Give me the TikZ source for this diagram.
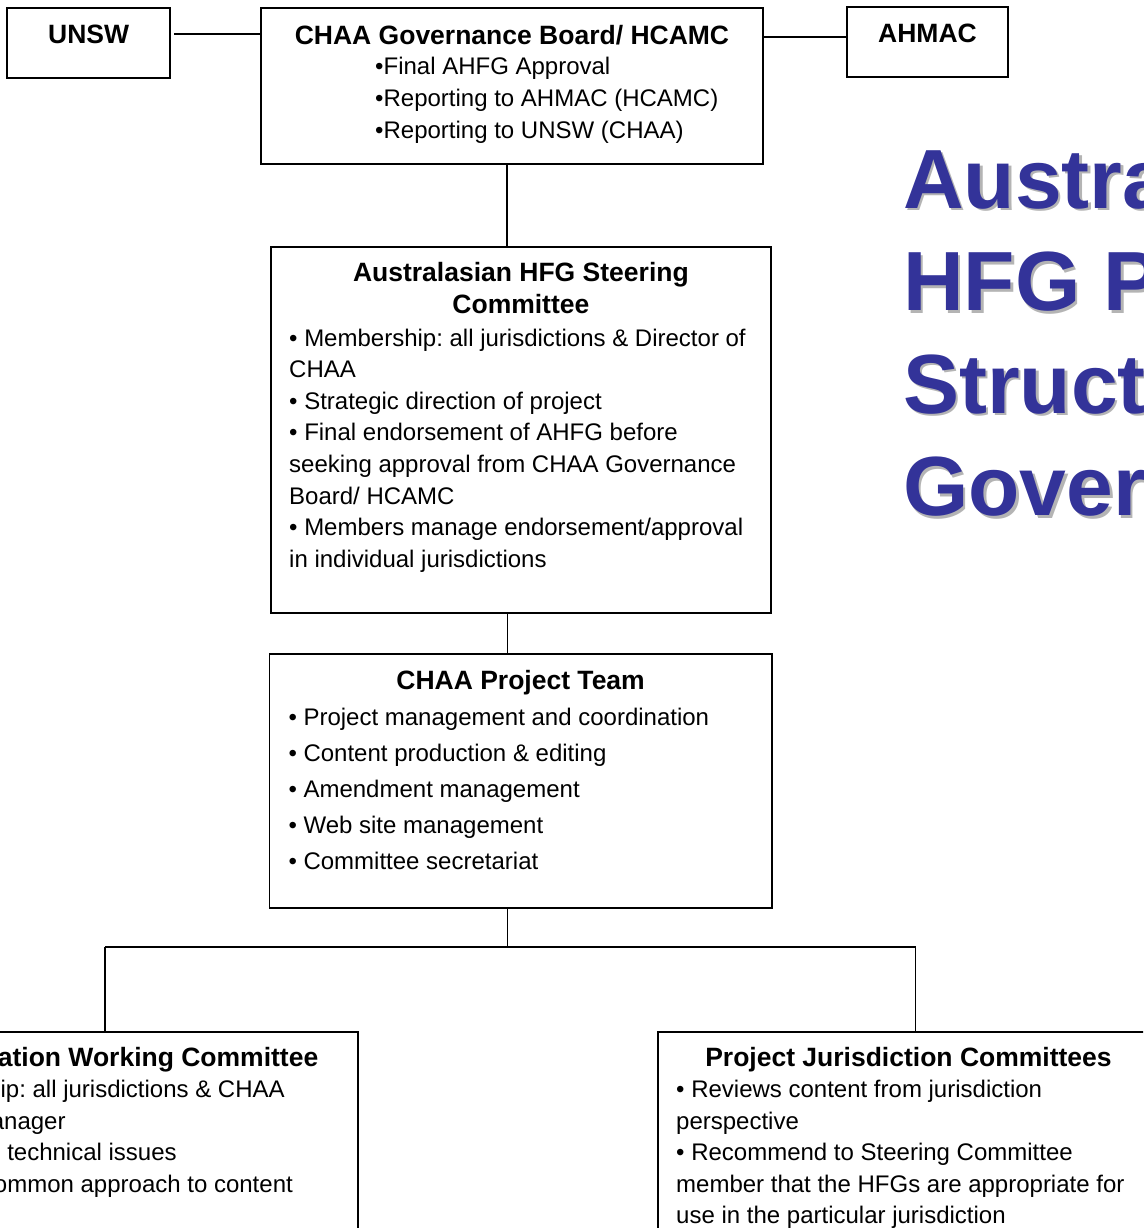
\documentclass[tikz,border=0pt]{standalone}
\usepackage{fontspec}
\setmainfont{Liberation Sans}
\frenchspacing
\definecolor{ttlblue}{HTML}{333399}
\definecolor{shadowgray}{HTML}{B4B4B4}
\begin{document}
\begin{tikzpicture}[x=1pt,y=-1pt,
  box/.style={draw, line width=1.8pt, inner sep=0pt, outer sep=0pt, anchor=north west},
  conn/.style={line width=1.7pt},
  bodytxt/.style={anchor=base west, inner sep=0pt, font=\fontsize{24}{31.6}\selectfont},
  ptbody/.style={anchor=base west, inner sep=0pt, font=\fontsize{24}{36}\selectfont},
  heading/.style={anchor=base, inner sep=0pt, font=\fontsize{26.5}{31.6}\selectfont\bfseries},
  bigtitle/.style={anchor=base west, inner sep=0pt, font=\fontsize{84}{102.5}\selectfont\bfseries}
]
\useasboundingbox (0,0) rectangle (1143,1228);
\clip (0,0) rectangle (1143,1228);

% boxes
\node[box, minimum width=162.7pt, minimum height=69.7pt] (unsw) at (7.3,8.3) {};
\node[box, minimum width=502pt, minimum height=155.7pt] (gov) at (261,8.3) {};
\node[box, minimum width=161pt, minimum height=70.6pt] (ahmac) at (847,6.7) {};
\node[box, minimum width=500.3pt, minimum height=366pt] (sc) at (270.7,247) {};
\node[box, minimum width=502.2pt, minimum height=254pt] (pt) at (269.5,654) {};
\node[box, minimum width=509pt, minimum height=260pt] (iwc) at (-151,1031.7) {};
\node[box, minimum width=500pt, minimum height=260pt] (pjc) at (658.3,1031.7) {};

% texts
\node[heading] (unswt) at (88.6,44) {UNSW};
\node[heading] (ahmact) at (927.5,42.7) {AHMAC};

\node[heading] (govt) at (512,44.3) {CHAA Governance Board/ HCAMC};
\node[bodytxt] (govb) at (375,75) {\parbox[t]{380pt}{\raggedright
\textbullet Final AHFG Approval\\
\textbullet Reporting to AHMAC (HCAMC)\\
\textbullet Reporting to UNSW (CHAA)}};

\node[heading] (sct) at (520.9,281.7) {\parbox[t]{480pt}{\centering Australasian HFG Steering\\Committee}};
\node[bodytxt] (scb) at (289,346) {\parbox[t]{470pt}{\raggedright
\textbullet\ Membership: all jurisdictions \& Director of\\
CHAA\\
\textbullet\ Strategic direction of project\\
\textbullet\ Final endorsement of AHFG before\\
seeking approval from CHAA Governance\\
Board/ HCAMC\\
\textbullet\ Members manage endorsement/approval\\
in individual jurisdictions}};

\node[heading] (ptt) at (520.6,689) {CHAA Project Team};
\node[ptbody] (ptb) at (288.3,725) {\parbox[t]{470pt}{\raggedright
\textbullet\ Project management and coordination\\
\textbullet\ Content production \& editing\\
\textbullet\ Amendment management\\
\textbullet\ Web site management\\
\textbullet\ Committee secretariat}};

\node[heading, anchor=base east] (iwct) at (318.5,1066.7) {Implementation Working Committee};
\node[bodytxt] (iwcb) at (-128,1097.5) {\parbox[t]{480pt}{\raggedright
\textbullet\ Membership: all jurisdictions \& CHAA\\
Program Manager\\
\textbullet\ Addresses technical issues\\
\textbullet\ Develop common approach to content}};

\node[heading] (pjct) at (908.5,1066.7) {Project Jurisdiction Committees};
\node[bodytxt] (pjcb) at (676,1097.5) {\parbox[t]{470pt}{\raggedright
\textbullet\ Reviews content from jurisdiction\\
perspective\\
\textbullet\ Recommend to Steering Committee\\
member that the HFGs are appropriate for\\
use in the particular jurisdiction}};

% big title with shadow
\node[bigtitle, text=shadowgray] (bigshadow) at (905.5,210.5) {\parbox[t]{600pt}{\raggedright Australasian\\HFG Project\\Structure and\\Governance}};
\node[bigtitle, text=ttlblue] (bigt) at (903,208) {\parbox[t]{600pt}{\raggedright Australasian\\HFG Project\\Structure and\\Governance}};

% connectors
\coordinate (ly1) at (0,34.3);
\coordinate (ly2) at (0,37.3);
\coordinate (cx1) at (506.7,0);
\coordinate (cx2) at (507.5,0);
\coordinate (busL) at (105,947);
\coordinate (busM) at (507.5,947);
\coordinate (busR) at (915.5,947);

\draw[conn] ([xshift=4pt]unsw.east |- ly1) -- (gov.west |- ly1);
\draw[conn] (gov.east |- ly2) -- (ahmac.west |- ly2);
\draw[conn] (cx1 |- gov.south) -- (cx1 |- sc.north);
\draw[conn] (cx2 |- sc.south) -- (cx2 |- pt.north);
\draw[conn] (cx2 |- pt.south) -- (busM);
\draw[conn] (busL) -- (busR);
\draw[conn] (busL) -- (busL |- iwc.north);
\draw[conn] (busR) -- (busR |- pjc.north);
\end{tikzpicture}
\end{document}
